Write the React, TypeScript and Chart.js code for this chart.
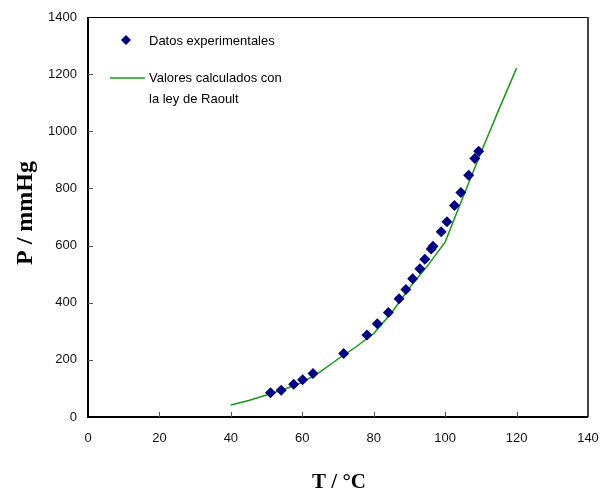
import React, { useEffect, useRef } from "react";
import { Chart, registerables } from "chart.js";

Chart.register(...registerables);

// Experimental data
const expT = [51.1, 54.1, 57.6, 60.1, 63.0, 71.6, 78.1, 81.0, 84.1, 87.1, 89.0, 90.9, 92.9, 94.3, 96.1, 96.6, 98.9, 100.5, 102.6, 104.4, 106.6, 108.3, 109.4];
const expP = [85, 94, 115, 130, 152, 222, 287, 326, 366, 414, 446, 484, 519, 552, 588, 598, 648, 683, 740, 786, 846, 905, 930];

// Calculated (Raoult) line
const calcT = [40, 45, 50, 55, 60, 65, 70, 75, 80, 85, 90, 95, 100, 105, 110, 115, 120];
const calcP = [42, 58, 77, 97, 121, 158, 203, 245, 292, 365, 452, 528, 612, 770, 925, 1075, 1221];

const xTicks = [0, 20, 40, 60, 80, 100, 120, 140];
const yTicks = [0, 200, 400, 600, 800, 1000, 1200, 1400];

const legendLabels = ["Datos experimentales", "Valores calculados con", "la ley de Raoult"];
const xTitle = "T / °C";
const yTitle = "P / mmHg";

const NAVY = "#000080";
const GREEN = "#159a15";

const decor = {
  id: "decor",
  afterDraw(chart: any) {
    const { ctx, chartArea: a, scales } = chart;
    const x = scales.x, y = scales.y;
    ctx.save();
    ctx.lineCap = "butt";
    ctx.strokeStyle = "#000";
    ctx.lineWidth = 1;
    ctx.beginPath();
    ctx.moveTo(a.left, a.top + 0.5);
    ctx.lineTo(a.right, a.top + 0.5);
    ctx.stroke();
    ctx.strokeStyle = "#444";
    ctx.lineWidth = 2;
    ctx.beginPath();
    ctx.moveTo(a.right, a.top);
    ctx.lineTo(a.right, a.bottom);
    ctx.stroke();
    ctx.strokeStyle = "#000";
    ctx.lineWidth = 2;
    ctx.beginPath();
    ctx.moveTo(a.left, a.top);
    ctx.lineTo(a.left, a.bottom);
    ctx.lineTo(a.right, a.bottom);
    ctx.stroke();
    // inward ticks
    ctx.strokeStyle = "#555";
    ctx.lineWidth = 1;
    ctx.beginPath();
    xTicks.slice(1, -1).forEach((v) => {
      const px = Math.round(x.getPixelForValue(v)) + 0.5;
      ctx.moveTo(px, a.bottom);
      ctx.lineTo(px, a.bottom - 5);
    });
    yTicks.slice(1, -1).forEach((v) => {
      const py = Math.round(y.getPixelForValue(v)) + 0.5;
      ctx.moveTo(a.left, py);
      ctx.lineTo(a.left + 5, py);
    });
    ctx.stroke();

    // legend
    ctx.fillStyle = NAVY;
    ctx.beginPath();
    const cx = 126, cy = 40, r = 5;
    ctx.moveTo(cx, cy - r);
    ctx.lineTo(cx + r, cy);
    ctx.lineTo(cx, cy + r);
    ctx.lineTo(cx - r, cy);
    ctx.closePath();
    ctx.fill();
    ctx.strokeStyle = GREEN;
    ctx.lineWidth = 1.5;
    ctx.beginPath();
    ctx.moveTo(110, 78);
    ctx.lineTo(145, 78);
    ctx.stroke();
    ctx.fillStyle = "#000";
    ctx.font = "13px 'Liberation Sans', Arial, sans-serif";
    ctx.textAlign = "left";
    ctx.textBaseline = "middle";
    ctx.fillText(legendLabels[0], 149, 41);
    ctx.fillText(legendLabels[1], 149, 78);
    ctx.fillText(legendLabels[2], 149, 99);

    // axis titles
    ctx.font = "bold 21px 'Liberation Serif', 'Times New Roman', serif";
    ctx.textAlign = "center";
    ctx.textBaseline = "middle";
    ctx.fillText(xTitle, 339, 483);
    ctx.save();
    ctx.translate(26, 213);
    ctx.rotate(-Math.PI / 2);
    ctx.font = "bold 24px 'Liberation Serif', 'Times New Roman', serif";
    ctx.fillText(yTitle, 0, 0);
    ctx.restore();
    ctx.restore();
  },
};

export default function App() {
  const ref = useRef<HTMLCanvasElement | null>(null);
  useEffect(() => {
    if (!ref.current) return;
    const chart = new Chart(ref.current, {
      type: "scatter",
      data: {
        datasets: [
          {
            label: "Valores calculados con la ley de Raoult",
            data: calcT.map((t, i) => ({ x: t, y: calcP[i] })),
            showLine: true,
            borderColor: GREEN,
            borderWidth: 1.5,
            pointRadius: 0,
            fill: false,
            order: 2,
          },
          {
            label: "Datos experimentales",
            data: expT.map((t, i) => ({ x: t, y: expP[i] })),
            pointStyle: "rectRot",
            pointRadius: 5.5,
            backgroundColor: NAVY,
            borderColor: NAVY,
            borderWidth: 0,
            order: 1,
          },
        ],
      },
      options: {
        responsive: false,
        animation: false,
        layout: { autoPadding: false, padding: { left: 0, top: 17, right: 13, bottom: 0 } },
        plugins: { legend: { display: false }, tooltip: { enabled: false } },
        scales: {
          x: {
            type: "linear",
            min: 0,
            max: 140,
            afterBuildTicks: (s: any) => {
              s.ticks = xTicks.map((v) => ({ value: v }));
            },
            afterFit: (s: any) => {
              s.height = 80;
              s.paddingLeft = 0;
              s.paddingRight = 0;
            },
            grid: { display: false, drawTicks: false },
            border: { display: false },
            ticks: {
              padding: 14,
              color: "#111",
              font: { family: "'Liberation Sans', Arial, sans-serif", size: 13 },
              maxRotation: 0,
              callback: (v: any) => String(v),
            },
          },
          y: {
            type: "linear",
            min: 0,
            max: 1400,
            afterBuildTicks: (s: any) => {
              s.ticks = yTicks.map((v) => ({ value: v }));
            },
            afterFit: (s: any) => {
              s.width = 88;
              s.paddingTop = 0;
              s.paddingBottom = 0;
            },
            grid: { display: false, drawTicks: false },
            border: { display: false },
            ticks: {
              padding: 11,
              color: "#111",
              font: { family: "'Liberation Sans', Arial, sans-serif", size: 13 },
              callback: (v: any) => String(v),
            },
          },
        },
      },
      plugins: [decor],
    });
    return () => chart.destroy();
  }, []);
  return (
    <div style={{ position: "absolute", left: 0, top: 0, width: 601, height: 497, background: "#fff" }}>
      <canvas ref={ref} width={601} height={497} style={{ display: "block" }} />
    </div>
  );
}
